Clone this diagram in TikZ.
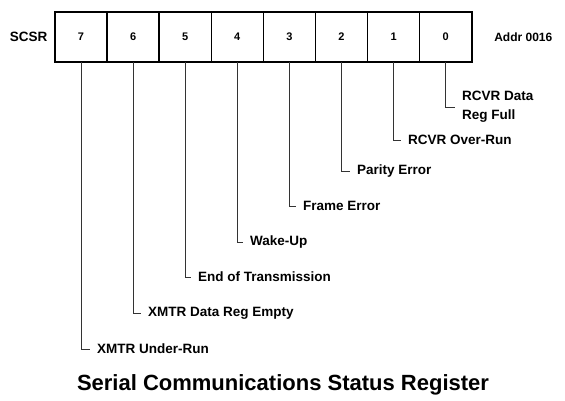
\documentclass[tikz,border=0pt]{standalone}
\usepackage{fontspec}
\setmainfont{Liberation Sans}
\usetikzlibrary{positioning}

\begin{document}
\begin{tikzpicture}[
    x=1pt, y=-1pt,
    node distance=0pt,
    bitbox/.style={draw, rectangle, line width=1.5pt, minimum width=52.1pt, minimum height=50pt,
        inner sep=0pt, outer sep=0pt, font=\fontsize{11}{13}\selectfont\bfseries},
    lbl/.style={anchor=west, inner sep=0pt, font=\fontsize{13.5}{19}\selectfont\bfseries, align=left},
    lead/.style={line width=0.8pt, black!80, shorten >=7pt}
]
    \useasboundingbox (0,0) rectangle (565,401);

    % Register cells
    \node[bitbox] (b7) at (81,37) {7};
    \node[bitbox, right=of b7] (b6) {6};
    \node[bitbox, right=of b6] (b5) {5};
    \node[bitbox, right=of b5] (b4) {4};
    \node[bitbox, right=of b4] (b3) {3};
    \node[bitbox, right=of b3] (b2) {2};
    \node[bitbox, right=of b2] (b1) {1};
    \node[bitbox, right=of b1] (b0) {0};

    % Side labels
    \node[left=4pt of b7, font=\fontsize{13.5}{16}\selectfont\bfseries] (scsr) {SCSR};
    \node[right=19pt of b0, font=\fontsize{12}{14}\selectfont\bfseries] (addr) {Addr 0016};

    % Bit names
    \node[lbl] (l0) at (462,107) {RCVR Data\\Reg Full};
    \node[lbl] (l1) at (408,140) {RCVR Over-Run};
    \node[lbl] (l2) at (357,171) {Parity Error};
    \node[lbl] (l3) at (303,206) {Frame Error};
    \node[lbl] (l4) at (250,242) {Wake-Up};
    \node[lbl] (l5) at (198,277) {End of Transmission};
    \node[lbl] (l6) at (148,313) {XMTR Data Reg Empty};
    \node[lbl] (l7) at (97,349) {XMTR Under-Run};

    % Leads
    \draw[lead] (b0.south) |- (l0.west);
    \draw[lead] (b1.south) |- (l1.west);
    \draw[lead] (b2.south) |- (l2.west);
    \draw[lead] (b3.south) |- (l3.west);
    \draw[lead] (b4.south) |- (l4.west);
    \draw[lead] (b5.south) |- (l5.west);
    \draw[lead] (b6.south) |- (l6.west);
    \draw[lead] (b7.south) |- (l7.west);

    % Title
    \node[font=\fontsize{22}{26}\selectfont\bfseries] (title) at (283,385) {Serial Communications Status Register};
\end{tikzpicture}
\end{document}
